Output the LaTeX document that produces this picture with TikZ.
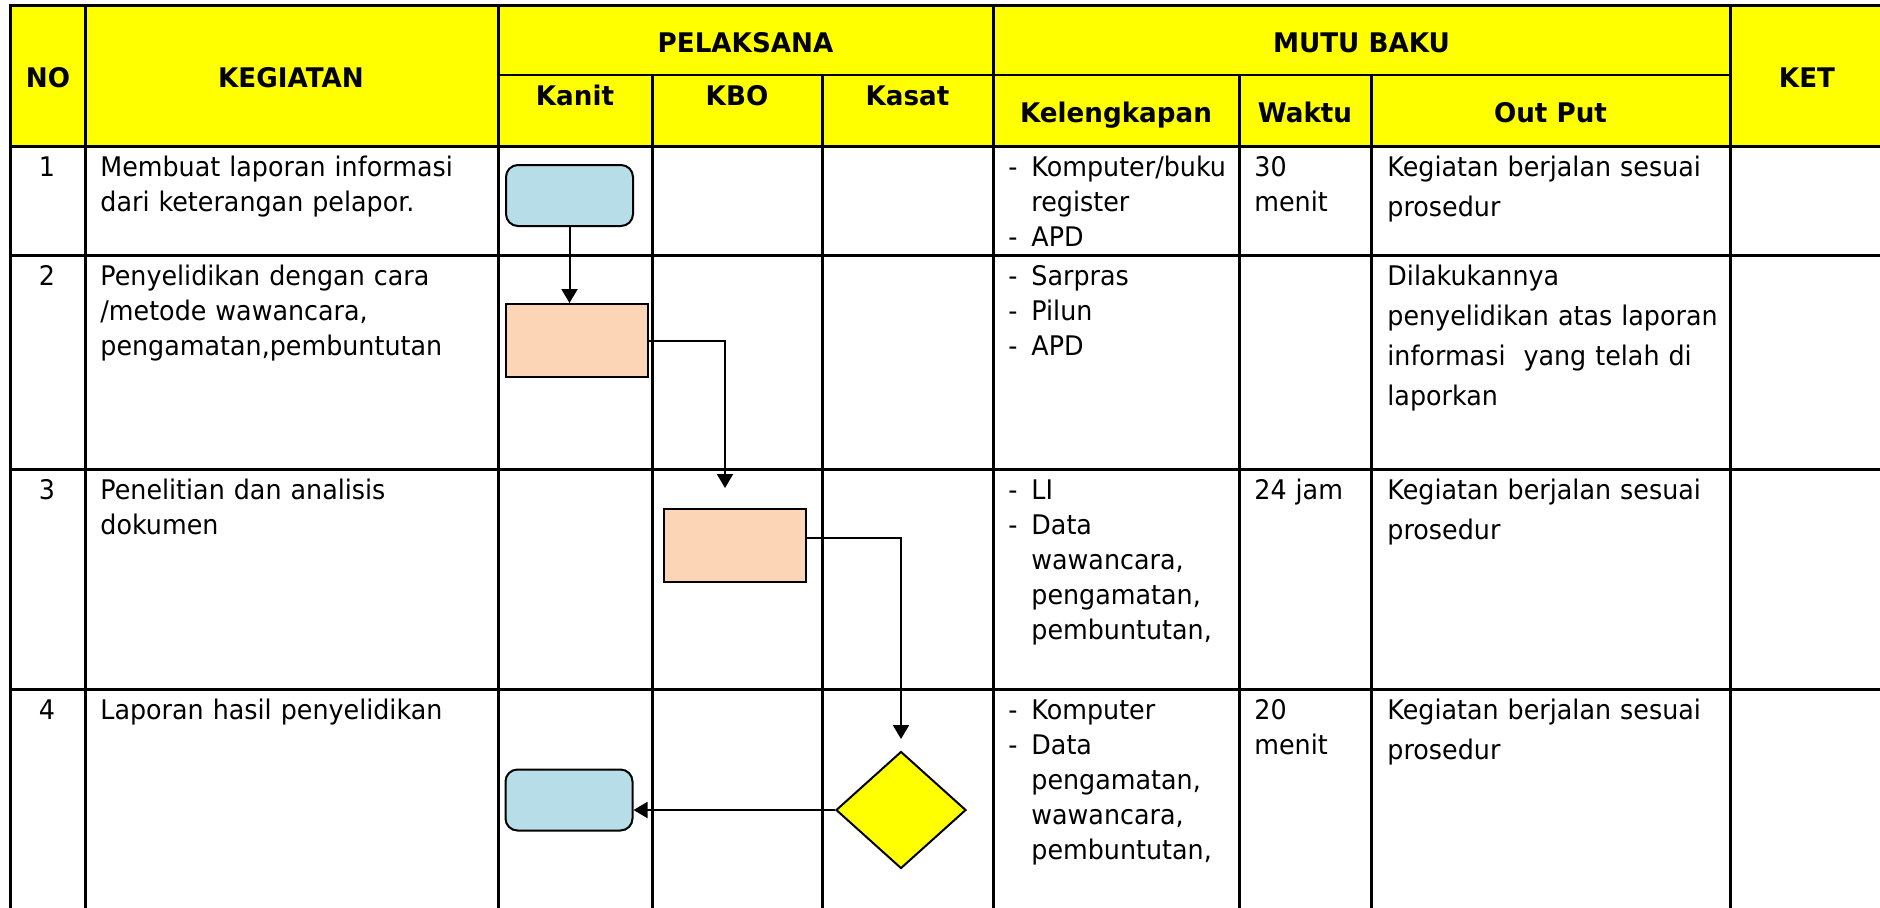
\documentclass[tikz,border=0pt]{standalone}
\usepackage{fontspec}
\setmainfont{DejaVu Sans}[FakeStretch=0.94]
\newfontfamily\hdfont{DejaVu Sans}[FakeStretch=0.97]
\usetikzlibrary{arrows.meta,shapes.geometric}
\definecolor{hdyellow}{HTML}{FFFF00}
\definecolor{boxblue}{HTML}{B7DDE8}
\definecolor{boxpeach}{HTML}{FBD5B5}
\newcommand\kdash{\makebox[11.5pt][l]{-}}
\newcommand\kind{\hspace*{11.5pt}}
\tikzset{
  tline/.style={line width=1.5pt,line cap=rect},
  hd/.style={font=\hdfont\fontsize{13.5}{17.5}\selectfont\bfseries,anchor=base,inner sep=0pt},
  num/.style={font=\fontsize{13.5}{17.5}\selectfont,anchor=base,inner sep=0pt},
  txt/.style={font=\fontsize{13.5}{17.5}\selectfont,anchor=base west,inner sep=0pt,text width=#1,align=left},
  txt/.default=200pt,
  outtxt/.style={font=\fontsize{13.5}{20}\selectfont,anchor=base west,inner sep=0pt,text width=200pt,align=left},
  term/.style={draw,fill=boxblue,rounded corners=6pt,line width=1pt,inner sep=0pt,minimum width=63.5pt,minimum height=30.5pt},
  proc/.style={draw,fill=boxpeach,line width=1pt,inner sep=0pt,minimum width=71pt,minimum height=36.5pt},
  dec/.style={diamond,draw,fill=hdyellow,line width=1pt,inner sep=0pt,minimum width=65pt,minimum height=58.5pt},
  flow/.style={line width=1pt,-{Triangle[width=8pt,length=7pt]}}
}
\begin{document}
\begin{tikzpicture}[x=0.5pt,y=-0.5pt]
\useasboundingbox (0,0) rectangle (1880,907);
\fill[hdyellow] (10,5) rectangle (1880,146);
%
\draw[tline] (10,5) -- (1880,5);
\draw[line width=0.8pt] (498,75) -- (1730,75);
\draw[tline] (10,146) -- (1880,146);
\draw[tline] (10,255) -- (1880,255);
\draw[tline] (10,469) -- (1880,469);
\draw[tline] (10,689) -- (1880,689);
%
\draw[tline] (10,5) -- (10,907);
\draw[tline] (85,5) -- (85,907);
\draw[tline] (498,5) -- (498,907);
\draw[tline] (652,75) -- (652,907);
\draw[tline] (822,75) -- (822,907);
\draw[tline] (993,5) -- (993,907);
\draw[tline] (1239,75) -- (1239,907);
\draw[tline] (1371,75) -- (1371,907);
\draw[tline] (1730,5) -- (1730,907);
%
\node[hd] (hNo) at (48,87) {NO};
\node[hd] (hKeg) at (291,87) {KEGIATAN};
\node[hd] (hPel) at (745.5,52) {PELAKSANA};
\node[hd] (hMutu) at (1361.5,52) {MUTU BAKU};
\node[hd] (hKet) at (1807,87) {KET};
\node[hd] (hKanit) at (575,105) {Kanit};
\node[hd] (hKbo) at (737,105) {KBO};
\node[hd] (hKasat) at (907.5,105) {Kasat};
\node[hd] (hLengkap) at (1116,122) {Kelengkapan};
\node[hd] (hWaktu) at (1305,122) {Waktu};
\node[hd] (hOut) at (1550.5,122) {Out Put};
%
\node[num] (n1) at (47,176) {1};
\node[num] (n2) at (47,285) {2};
\node[num] (n3) at (47,499) {3};
\node[num] (n4) at (47,719) {4};
%
\node[txt] (keg1) at (100,176) {Membuat laporan informasi\\dari keterangan pelapor.};
\node[txt] (keg2) at (100,285) {Penyelidikan dengan cara\\/metode wawancara,\\pengamatan,pembuntutan};
\node[txt] (keg3) at (100,499) {Penelitian dan analisis\\dokumen};
\node[txt] (keg4) at (100,719) {Laporan hasil penyelidikan};
%
\node[txt=120pt] (lk1) at (1008,176) {\kdash Komputer/buku\\\kind register\\\kdash APD};
\node[txt=120pt] (lk2) at (1008,285) {\kdash Sarpras\\\kdash Pilun\\\kdash APD};
\node[txt=120pt] (lk3) at (1008,499) {\kdash LI\\\kdash Data\\\kind wawancara,\\\kind pengamatan,\\\kind pembuntutan,};
\node[txt=120pt] (lk4) at (1008,719) {\kdash Komputer\\\kdash Data\\\kind pengamatan,\\\kind wawancara,\\\kind pembuntutan,};
%
\node[txt=60pt] (wk1) at (1254,176) {30\\menit};
\node[txt=60pt] (wk3) at (1254,499) {24 jam};
\node[txt=60pt] (wk4) at (1254,719) {20\\menit};
%
\node[outtxt] (out1) at (1387,176) {Kegiatan berjalan sesuai\\prosedur};
\node[outtxt] (out2) at (1387,285) {Dilakukannya\\penyelidikan atas laporan\\informasi\ \ yang telah di\\laporkan};
\node[outtxt] (out3) at (1387,499) {Kegiatan berjalan sesuai\\prosedur};
\node[outtxt] (out4) at (1387,719) {Kegiatan berjalan sesuai\\prosedur};
%
\node[term] (K1) at (569.5,195.5) {};
\node[proc] (K2) at (576.5,340.5) {};
\node[proc] (B3) at (735,545.5) {};
\node[dec] (S4) at (901,810) {};
\node[term] (K4) at (569,800) {};
\coordinate (c3) at (725,488);
\coordinate (c4) at (901,739);
%
\draw[flow] (K1.south) -- (K1.south |- K2.north);
\draw[flow] (K2.east) -| (c3);
\draw[flow] ([yshift=4pt]B3.east) -| (c4);
\draw[flow] (S4.west) -- (S4.west -| K4.east);
%
\end{tikzpicture}
\end{document}
